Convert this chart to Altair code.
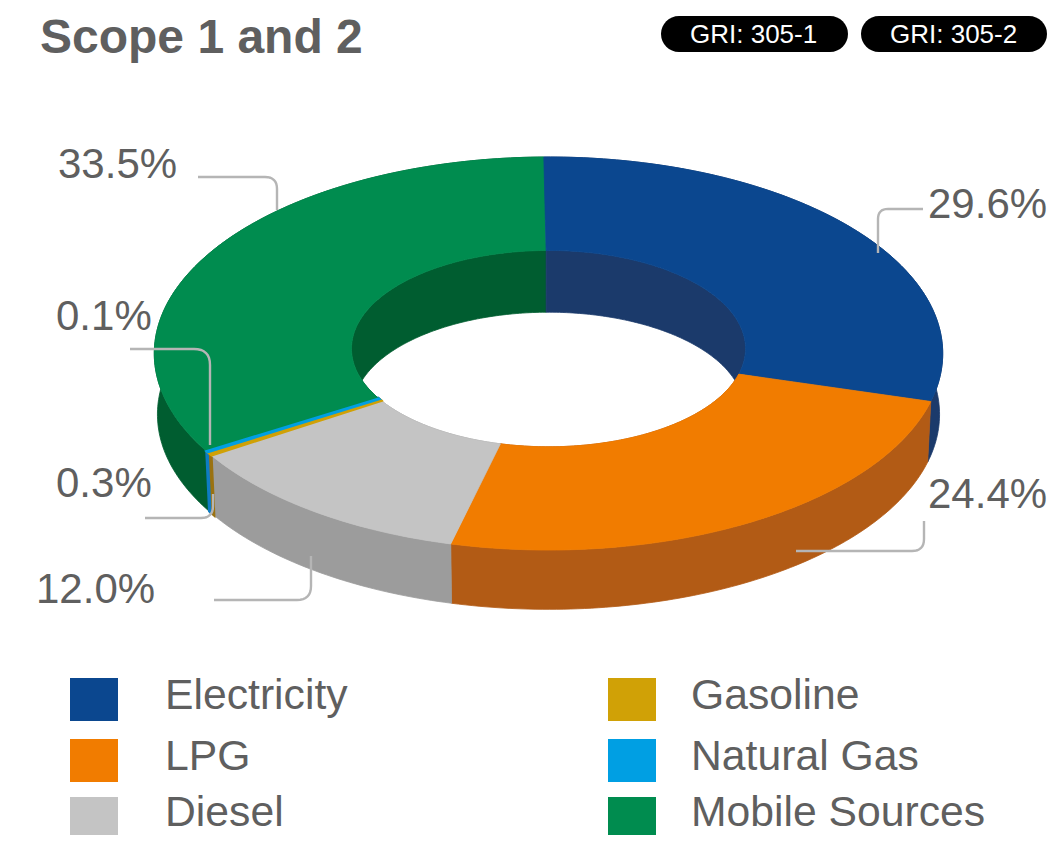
import math
import altair as alt
import pandas as pd

# ---- values ----
categories = ["Electricity", "LPG", "Diesel", "Gasoline", "Natural Gas", "Mobile Sources"]
shares = [29.6, 24.4, 12.0, 0.3, 0.1, 33.5]
share_labels = ["29.6%", "24.4%", "12.0%", "0.3%", "0.1%", "33.5%"]
top_colors = ["#0b478f", "#f17c00", "#c4c4c4", "#d0a106", "#009fe3", "#008c4f"]
wall_colors = ["#1b3a6b", "#b25b15", "#9c9c9c", "#9a7211", "#0e7cc4", "#005d30"]
title_text = "Scope 1 and 2"
pill_texts = ["GRI: 305-1", "GRI: 305-2"]

# ---- layout (page pixels) ----
START_DEG = -0.7
CX, CY, A, B, K = 548.5, 347.0, 394.0, 196.3, 0.0331
INNER = 0.5
DEPTH = 61.0
FLOOR = 0.992
TEXT = "#5f5f5f"
FONT = "Liberation Sans"
LEADER = "#b5b5b5"
W, H = 1040, 827

label_x = [928, 928, 36, 56, 56, 58]
label_y = [218, 508, 603, 497, 330, 178]
leaders = [
    [(878, 253), (878, 209), (923, 209)],
    [(796, 551), (924, 551), (924, 521)],
    [(214, 600), (311, 600), (311, 556)],
    [(145, 518), (213, 518), (213, 494)],
    [(130, 349), (210, 349), (210, 445)],
    [(198, 177), (277, 177), (277, 210)],
]
leader_radius = [10, 12, 14, 12, 16, 12]
legend_x = [70, 70, 70, 608, 608, 608]
legend_y = [678, 739, 797, 678, 739, 797]
legend_bottom = [721, 782, 835, 721, 782, 835]
legend_text_x = [165, 165, 165, 691, 691, 691]
legend_text_y = [709, 770, 826, 709, 770, 826]


def project(t, r, drop=0.0):
    u, v = r * math.sin(t), r * math.cos(t)
    d = 1 + K * v
    return [CX + A * u / d, CY - B * v / d + drop]


def arc(t0, t1, r, drop=0.0):
    n = max(3, int(abs(t1 - t0) / math.radians(1)) + 2)
    return [project(t0 + (t1 - t0) * i / (n - 1), r, drop) for i in range(n)]


def feature(key, ring):
    ring = ring + [ring[0]]
    return {
        "type": "Feature",
        "properties": {"key": key},
        "geometry": {"type": "Polygon", "coordinates": [ring]},
    }


total = sum(shares)
sectors = []
acc = 0.0
for cat, s in zip(categories, shares):
    t0 = math.radians(START_DEG + 360 * acc / total)
    acc += s
    t1 = math.radians(START_DEG + 360 * acc / total)
    sectors.append((s, cat, t0, t1))

# thin slices go last so the large neighbours do not cover them
sectors.sort(key=lambda row: -row[0])
walls, tops = [], []
for s, cat, t0, t1 in sectors:
    for r in (1.0, INNER):
        walls.append(feature(cat + " wall", arc(t0, t1, r) + arc(t1, t0, r * FLOOR, DEPTH)))
    tops.append(feature(cat, arc(t0, t1, 1.0) + arc(t1, t0, INNER)))

color_scale = alt.Scale(
    domain=categories + [c + " wall" for c in categories],
    range=top_colors + wall_colors,
)
xs = alt.Scale(domain=[8, 8 + W], range=[0, W], nice=False, zero=False)
ys = alt.Scale(domain=[8, 8 + H], range=[0, H], nice=False, zero=False)
X = alt.X("x:Q", scale=xs, axis=None)
Y = alt.Y("y:Q", scale=ys, axis=None)

donut = (
    alt.Chart(alt.Data(values=walls + tops))
    .mark_geoshape()
    .encode(
        color=alt.Color("properties.key:N", scale=color_scale, legend=None),
        stroke=alt.Color("properties.key:N", scale=color_scale, legend=None),
        strokeWidth=alt.condition(
            "indexof(datum.properties.key, 'Natural Gas') == 0 || indexof(datum.properties.key, 'Gasoline') == 0",
            alt.value(2.3),
            alt.value(0.8),
        ),
    )
    .project(type="identity", scale=1, translate=[-8, -8])
)


def rounded(points, radius):
    (x0, y0), (x1, y1), (x2, y2) = points
    l0 = math.hypot(x1 - x0, y1 - y0)
    l1 = math.hypot(x2 - x1, y2 - y1)
    a = (x1 + (x0 - x1) * radius / l0, y1 + (y0 - y1) * radius / l0)
    b = (x1 + (x2 - x1) * radius / l1, y1 + (y2 - y1) * radius / l1)
    out = [(x0, y0)]
    for i in range(9):
        f = i / 8
        out.append((
            (1 - f) ** 2 * a[0] + 2 * f * (1 - f) * x1 + f * f * b[0],
            (1 - f) ** 2 * a[1] + 2 * f * (1 - f) * y1 + f * f * b[1],
        ))
    out.append((x2, y2))
    return out


leader_rows = []
for cat, pts, rad in zip(categories, leaders, leader_radius):
    for i, (x, y) in enumerate(rounded(pts, rad)):
        leader_rows.append({"cat": cat, "i": i, "x": x, "y": y})

leader_layer = (
    alt.Chart(pd.DataFrame(leader_rows))
    .mark_line(color=LEADER, strokeWidth=2.4, interpolate="linear")
    .encode(x=X, y=Y, detail="cat:N", order="i:Q")
)

share_layer = (
    alt.Chart(pd.DataFrame({"t": share_labels, "x": label_x, "y": label_y}))
    .mark_text(align="left", baseline="alphabetic", font=FONT, fontSize=42, color=TEXT)
    .encode(x=X, y=Y, text="t:N")
)

swatches = (
    alt.Chart(pd.DataFrame({"cat": categories, "x": legend_x, "y": legend_y, "y2": legend_bottom}))
    .transform_calculate(x2="datum.x + 48")
    .mark_rect()
    .encode(
        x=X,
        x2="x2:Q",
        y=Y,
        y2="y2:Q",
        color=alt.Color("cat:N", scale=color_scale, legend=None),
    )
)

legend_text = (
    alt.Chart(pd.DataFrame({"cat": categories, "x": legend_text_x, "y": legend_text_y}))
    .mark_text(align="left", baseline="alphabetic", font=FONT, fontSize=42.7, color=TEXT)
    .encode(x=X, y=Y, text="cat:N")
)

title_layer = (
    alt.Chart(pd.DataFrame({"t": [title_text], "x": [40], "y": [53]}))
    .mark_text(align="left", baseline="alphabetic", font=FONT, fontSize=48, fontWeight="bold", color=TEXT)
    .encode(x=X, y=Y, text="t:N")
)

pills = (
    alt.Chart(pd.DataFrame({"x": [661, 861], "x2": [848, 1047], "y": [16, 16], "y2": [52, 52]}))
    .mark_rect(color="#000000", cornerRadius=18)
    .encode(x=X, x2="x2:Q", y=Y, y2="y2:Q")
)

pill_text = (
    alt.Chart(pd.DataFrame({"t": pill_texts, "x": [690, 890], "y": [43, 43]}))
    .mark_text(align="left", baseline="alphabetic", font=FONT, fontSize=26, color="#ffffff")
    .encode(x=X, y=Y, text="t:N")
)

chart = (
    alt.layer(donut, leader_layer, share_layer, swatches, legend_text, title_layer, pills, pill_text)
    .properties(width=W, height=H, padding=0, autosize=alt.AutoSizeParams(type="none"))
    .configure_view(stroke=None)
)

chart.save("out.html", embed_options={"renderer": "svg", "actions": False})
